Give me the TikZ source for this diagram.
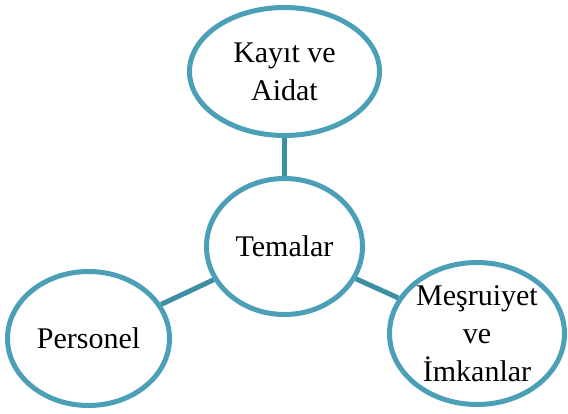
\documentclass[tikz,border=0pt]{standalone}
\usepackage{fontspec}
\setmainfont{Liberation Serif}
\usetikzlibrary{shapes.geometric}
\definecolor{ringblue}{HTML}{4BA0B8}
\definecolor{linkblue}{HTML}{3E8FA3}
\begin{document}
\begin{tikzpicture}[x=1pt,y=-1pt,
  bubble/.style={ellipse,draw=ringblue,line width=5pt,fill=white,inner sep=0pt,
    align=center,font=\fontsize{30}{38}\selectfont},
  link/.style={draw=linkblue,line width=5pt}]
\useasboundingbox (0,0) rectangle (568,413);
\node[bubble,minimum width=190pt,minimum height=128pt] (top) at (284.5,71.5) {Kayıt ve\\Aidat};
\node[bubble,minimum width=156pt,minimum height=136pt] (mid) at (284.5,246.5) {Temalar};
\node[bubble,minimum width=162pt,minimum height=134pt] (left) at (88.5,338.5) {Personel};
\node[bubble,minimum width=175pt,minimum height=142pt] (right) at (477,333.5) {Meşruiyet\\ve\\İmkanlar};
\draw[link] (top) -- (mid);
\draw[link] (mid) -- (left);
\draw[link] (mid) -- (right);
\end{tikzpicture}
\end{document}
